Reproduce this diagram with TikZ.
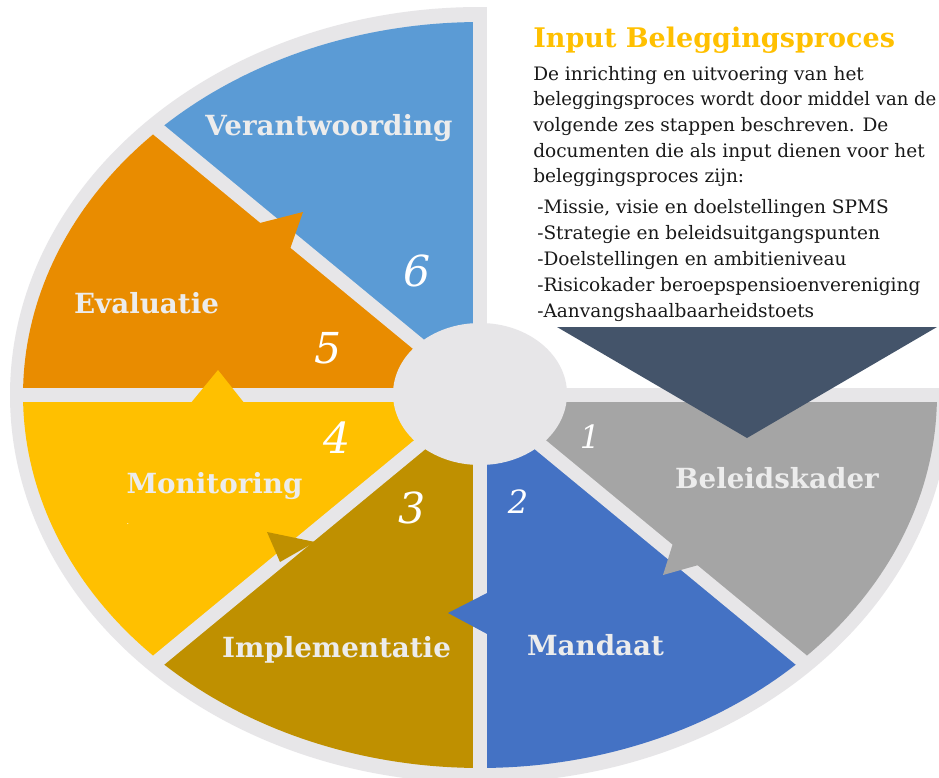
\documentclass[tikz,border=0pt]{standalone}
\usepackage{fontspec}
\setmainfont{DejaVu Serif}
\definecolor{ringgray}{RGB}{231,230,232}
\definecolor{segGray}{RGB}{165,165,165}
\definecolor{segBlueDark}{RGB}{68,114,196}
\definecolor{segGold}{RGB}{191,144,0}
\definecolor{segYellow}{RGB}{255,192,0}
\definecolor{segOrange}{RGB}{233,140,0}
\definecolor{segBlue}{RGB}{91,155,213}
\definecolor{navy}{RGB}{68,84,106}
\definecolor{titlegold}{RGB}{255,192,0}
\definecolor{labelwhite}{RGB}{236,236,236}
\definecolor{bodytext}{RGB}{25,25,25}
\begin{document}
\begin{tikzpicture}[x=0.75pt,y=-0.75pt,
  gapline/.style={draw=ringgray,line width=10.5pt},
  seglabel/.style={font=\bfseries\fontsize{20.8}{24}\selectfont,text=labelwhite,anchor=base,inner sep=0pt},
  bignum/.style={font=\itshape\fontsize{32}{34}\selectfont,text=white,inner sep=0pt},
  smallnum/.style={font=\itshape\fontsize{24}{28}\selectfont,text=white,inner sep=0pt},
  bodyline/.style={font=\fontsize{13.9}{19}\selectfont,text=bodytext,anchor=base west,inner sep=0pt},
  titlestyle/.style={font=\bfseries\fontsize{20.25}{24}\selectfont,text=titlegold,anchor=base west,inner sep=0pt}]
\useasboundingbox (0,0) rectangle (939,778);
\fill[white] (0,0) rectangle (939,778);
% outer ring
\fill[ringgray] (480,395) ellipse [x radius=352.5pt, y radius=291pt];
% segments
\fill[segGray] (480,395) -- plot[domain=-45:0,samples=40] ({480+457*cos(\x)},{395-373*sin(\x)}) -- cycle;
\fill[segBlueDark] (480,395) -- plot[domain=-90:-45,samples=40] ({480+457*cos(\x)},{395-373*sin(\x)}) -- cycle;
\fill[segGold] (480,395) -- plot[domain=-135:-90,samples=40] ({480+457*cos(\x)},{395-373*sin(\x)}) -- cycle;
\fill[segYellow] (480,395) -- plot[domain=-180:-135,samples=40] ({480+457*cos(\x)},{395-373*sin(\x)}) -- cycle;
\fill[segOrange] (480,395) -- plot[domain=135:180,samples=40] ({480+457*cos(\x)},{395-373*sin(\x)}) -- cycle;
\fill[segBlue] (480,395) -- plot[domain=90:135,samples=40] ({480+457*cos(\x)},{395-373*sin(\x)}) -- cycle;
% white quadrant
\fill[white] (487,-5) rectangle (945,388);
% gaps
\foreach \a in {0,90,135,180,225,270,315}
  \draw[gapline] (480,395) -- ({480+463*cos(\a)},{395-382*sin(\a)});
% notches
\fill[segOrange] (252,225) -- (303,212) -- (289,252) -- cycle;
\fill[segYellow] (190,404) -- (218,370) -- (245,404) -- cycle;
\fill[segGold] (267,532) -- (315,542) -- (280,562) -- cycle;
\fill[segBlueDark] (448,613) -- (489,592) -- (489,635) -- cycle;
\fill[segGray] (674,540) -- (663,575) -- (702,564) -- cycle;
% input arrow
\fill[navy] (557,327) -- (937,327) -- (747,438) -- cycle;
% hub
\fill[ringgray] (480,394) ellipse [x radius=65.25pt, y radius=53.25pt];
% segment labels
\node[seglabel] (l6) at (329,135) {Verantwoording};
\node[seglabel] (l5) at (146.5,313) {Evaluatie};
\node[seglabel] (l4) at (214.5,493) {Monitoring};
\node[seglabel] (l3) at (336.5,657) {Implementatie};
\node[seglabel] (l2) at (595.5,655) {Mandaat};
\node[seglabel] (l1) at (777,488) {Beleidskader};
\node[font=\fontsize{6}{6}\selectfont,text=white,inner sep=0pt] (dot) at (128,524) {.};
% numbers
\node[bignum] (n6) at (417,271) {6};
\node[bignum] (n5) at (328,348) {5};
\node[bignum] (n4) at (337,438) {4};
\node[bignum] (n3) at (412,508) {3};
\node[smallnum] (n2) at (518,502) {2};
\node[smallnum] (n1) at (590,437) {1};
% text block
\node[titlestyle] (title) at (533,47) {Input Beleggingsproces};
\node[bodyline] (b1) at (533,80) {De inrichting en uitvoering van het};
\node[bodyline,xscale=0.975] (b2) at (533,105) {beleggingsproces wordt door middel van de};
\node[bodyline] (b3) at (533,131) {volgende zes stappen beschreven. De};
\node[bodyline] (b4) at (533,157) {documenten die als input dienen voor het};
\node[bodyline] (b5) at (533,182) {beleggingsproces zijn:};
\node[bodyline] (i1) at (537,213) {-Missie, visie en doelstellingen SPMS};
\node[bodyline] (i2) at (537,239) {-Strategie en beleidsuitgangspunten};
\node[bodyline] (i3) at (537,265) {-Doelstellingen en ambitieniveau};
\node[bodyline] (i4) at (537,291) {-Risicokader beroepspensioenvereniging};
\node[bodyline] (i5) at (537,317) {-Aanvangshaalbaarheidstoets};
\end{tikzpicture}
\end{document}
